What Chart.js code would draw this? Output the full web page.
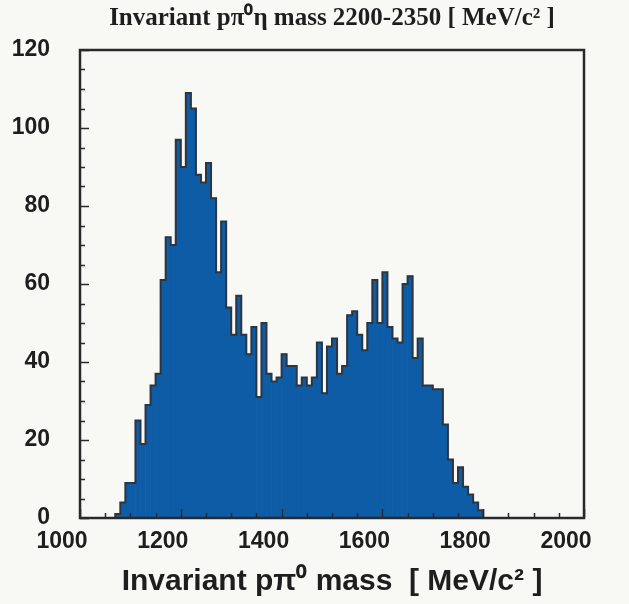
<!DOCTYPE html>
<html>
<head>
<meta charset="utf-8">
<script src="https://cdn.jsdelivr.net/npm/chart.js@4.4.1/dist/chart.umd.min.js"></script>
<style>
  html, body { margin: 0; padding: 0; background: #f8f8f4; }
</style>
</head>
<body>
<canvas id="massChart" width="629" height="604"></canvas>
<script>
// histogram: 10 MeV bins from 1000 to 2000
const binLow = 1000;
const binWidth = 10;
const counts = [
  0, 0, 0, 0, 0, 0, 0, 1, 4, 9,          // 1000-1090
  9, 25, 19, 29, 34, 37, 61, 72, 70, 97,  // 1100-1190
  90, 109, 105, 88, 86, 91, 82, 63, 76, 54, // 1200-1290
  47, 57, 47, 42, 49, 31, 50, 37, 35, 36, // 1300-1390
  42, 39, 39, 34, 36, 34, 36, 45, 32, 44, // 1400-1490
  46, 37, 39, 52, 53, 47, 43, 50, 61, 50, // 1500-1590
  63, 49, 46, 45, 60, 62, 41, 46, 34, 34, // 1600-1690
  33, 33, 24, 15, 9, 13, 8, 6, 4, 2,      // 1700-1790
  0, 0, 0, 0, 0, 0, 0, 0, 0, 0            // 1800-1890
];
const xTicks = [1000, 1200, 1400, 1600, 1800, 2000];
const yTicks = [0, 20, 40, 60, 80, 100, 120];

const binCenters = counts.map((c, i) => binLow + binWidth * (i + 0.5));
const points = counts.map((c, i) => ({ x: binCenters[i], y: c }));

// box round the plot with inward ticks, PAW style
const frameTicks = {
  id: 'frameTicks',
  afterDatasetsDraw(chart) {
    const { ctx, chartArea: a, scales: { x, y } } = chart;
    ctx.save();
    ctx.strokeStyle = '#2a2a2a';
    ctx.lineWidth = 1.5;
    ctx.beginPath();
    for (let v = 0; v <= 120; v += 5) {
      const py = Math.round(y.getPixelForValue(v)) + 0.5;
      const len = v % 20 === 0 ? 9 : 5;
      ctx.moveTo(a.left, py);
      ctx.lineTo(a.left + len, py);
    }
    for (let v = 1000; v <= 2000; v += 50) {
      const px = Math.round(x.getPixelForValue(v)) + 0.5;
      const len = v % 200 === 0 ? 9 : 5;
      ctx.moveTo(px, a.bottom);
      ctx.lineTo(px, a.bottom - len);
    }
    ctx.stroke();
    ctx.lineWidth = 2.5;
    ctx.strokeRect(a.left, a.top, a.right - a.left, a.bottom - a.top);
    ctx.restore();
  }
};

const tickFont = { family: 'Liberation Sans, Arial, sans-serif', size: 23, weight: 'bold' };

new Chart(document.getElementById('massChart'), {
  data: {
    datasets: [
      {
        type: 'line',
        data: points,
        stepped: 'middle',
        borderColor: '#2c3540',
        borderWidth: 2,
        pointRadius: 0,
        fill: false,
        order: 0
      },
      {
        type: 'bar',
        data: points,
        backgroundColor: '#0f5ca6',
        borderWidth: 0,
        barPercentage: 1,
        categoryPercentage: 1,
        order: 1
      }
    ]
  },
  options: {
    responsive: false,
    animation: false,
    layout: { padding: { left: 0, right: 45, top: 0, bottom: 0 } },
    plugins: {
      legend: { display: false },
      tooltip: { enabled: false },
      title: {
        display: true,
        fullSize: false,
        text: 'Invariant p\u03c0\u2070\u03b7 mass 2200-2350 [ MeV/c\u00b2 ]',
        color: '#1e1e1e',
        font: { family: 'Liberation Serif, Times New Roman, serif', size: 25, weight: 'bold' },
        padding: { top: 4, bottom: 16 }
      }
    },
    scales: {
      x: {
        type: 'linear',
        min: 1000,
        max: 2000,
        offset: false,
        afterBuildTicks: s => { s.ticks = xTicks.map(v => ({ value: v })); },
        afterFit: s => { s.height = 86; },
        grid: { display: false, offset: false },
        border: { display: false },
        ticks: { font: tickFont, color: '#1e1e1e', padding: 2, maxRotation: 0, labelOffset: -18, callback: v => String(v) },
        title: {
          display: true,
          text: 'Invariant p\u03c0\u2070 mass  [ MeV/c\u00b2 ]',
          color: '#1e1e1e',
          font: { family: 'Liberation Sans, Arial, sans-serif', size: 30, weight: 'bold' },
          padding: { top: 0 }
        }
      },
      y: {
        min: 0,
        max: 120,
        afterBuildTicks: s => { s.ticks = yTicks.map(v => ({ value: v })); },
        afterFit: s => { s.width = 80; },
        grid: { display: false },
        border: { display: false },
        ticks: { font: tickFont, color: '#1e1e1e', padding: 22, callback: v => String(v) }
      }
    }
  },
  plugins: [frameTicks]
});
</script>
</body>
</html>
